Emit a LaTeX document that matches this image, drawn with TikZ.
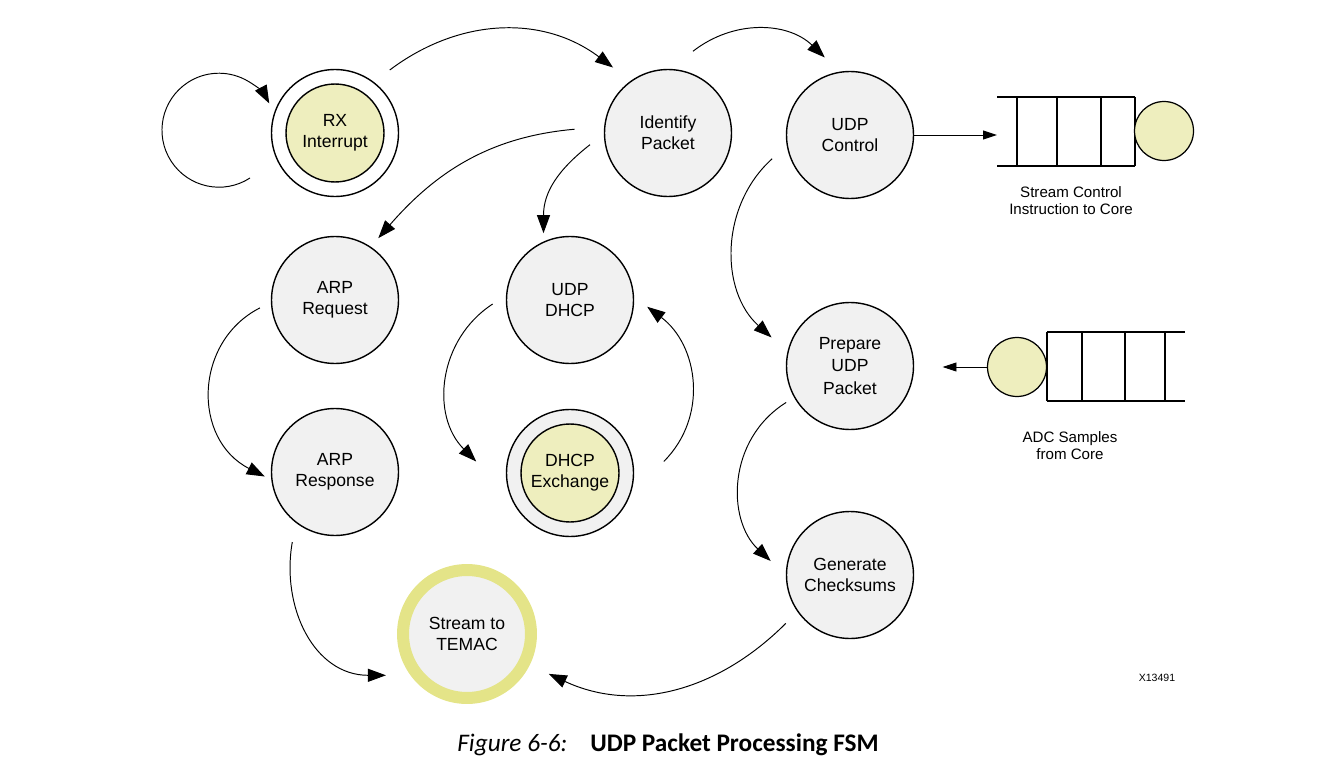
\documentclass[tikz,border=0pt]{standalone}
\usepackage{fontspec}
\setmainfont{Liberation Sans}
\newfontfamily\capfont{Carlito}
\usetikzlibrary{arrows.meta}

\definecolor{stategray}{RGB}{241,241,241}
\definecolor{paleyellow}{RGB}{238,238,190}
\definecolor{ringyellow}{RGB}{228,228,136}

\begin{document}
\begin{tikzpicture}[x=0.02cm, y=-0.02cm,
	state/.style={circle, draw, line width=0.8pt, fill=stategray, minimum size=2.54cm, inner sep=0pt, outer sep=0.4cm, align=center, font=\fontsize{10}{11.8}\selectfont},
	yellowcore/.style={circle, draw, line width=0.8pt, fill=paleyellow, minimum size=1.96cm, inner sep=0pt, align=center, font=\fontsize{10}{11.8}\selectfont},
	arr/.style={-{Triangle[length=0.36cm, width=0.26cm]}, line width=0.55pt},
	feed/.style={-{Triangle[length=0.28cm, width=0.18cm]}, line width=0.55pt},
	qline/.style={line width=0.8pt},
	qtoken/.style={circle, draw, line width=0.7pt, fill=paleyellow, minimum size=1.18cm, inner sep=0pt, outer sep=0pt},
	qnote/.style={align=center, font=\fontsize{8.6}{9.7}\selectfont}]
	\useasboundingbox (0,0) rectangle (1336,767);

	% states
	\node[state, fill=white] (rx) at (335,133) {};
	\node[yellowcore] (rxin) at (rx) {RX\\Interrupt};
	\node[state, outer sep=0.44cm] (idp) at (668,133) {Identify\\Packet};
	\node[state, outer sep=0.36cm] (udpctl) at (850,135) {UDP\\Control};
	\node[state, outer sep=0.24cm] (arpreq) at (335,300) {ARP\\Request};
	\node[state, outer sep=0.28cm] (udpdhcp) at (570,300) {UDP\\DHCP};
	\node[state, outer sep=0.26cm] (arpresp) at (335,472) {ARP\\Response};
	\node[state, outer sep=0.62cm] (dhcpex) at (570,473) {};
	\node[yellowcore] (dhcpin) at (dhcpex) {DHCP\\Exchange};
	\node[state, font=\fontsize{10}{12.6}\selectfont] (prep) at (850,366) {Prepare\\UDP\\Packet};
	\node[state, outer sep=0.34cm] (chk) at (850,575) {Generate\\Checksums};
	\node[state, draw=ringyellow, line width=0.24cm, minimum size=2.56cm, outer sep=0.54cm] (temac) at (467,634) {Stream to\\TEMAC};

	% transitions
	\coordinate (rxloop) at (250,178);
	\draw[arr] (rxloop) arc[start angle=-57, end angle=-332, radius=1.14cm];
	\draw[arr] (rx.49) to[out=37, in=143] (idp.130);
	\draw[arr] (idp.73) to[out=38, in=136] (udpctl.108);
	\draw[arr, shorten <=0.16cm] (idp.177) to[out=185, in=49] (arpreq.55);
	\draw[arr, shorten <=-0.15cm, shorten >=-0.12cm] (idp.191) to[out=218, in=90] (udpdhcp.110);
	\draw[arr, shorten >=-0.14cm] (arpreq.186) to[out=207, in=153, looseness=1.15] (arpresp.181);
	\draw[arr] (udpdhcp.183) to[out=213, in=135, looseness=1.05] (dhcpex.173);
	\draw[arr] (dhcpex.7) to[out=45, in=-37, looseness=1.05] (udpdhcp.355);
	\draw[arr, shorten <=0.12cm] (arpresp.237) to[out=260, in=180, looseness=1.1] (temac.207);
	\draw[arr] (chk.217) to[out=225, in=-25] (temac.334);
	\draw[arr] (udpctl.197) to[out=222, in=138] (prep.160);
	\draw[arr, shorten <=-0.2cm] (prep.210) to[out=212, in=137] (chk.170);

	% control queue
	\coordinate (ctlq) at (997,135);
	\draw[feed, shorten <=-0.36cm] (udpctl.east) -- (ctlq);
	\draw[qline] (997,97) -- (1135,97) (997,166) -- (1135,166);
	\foreach \x in {1017,1057,1101,1135} \draw[qline] (\x,97) -- (\x,166);
	\node[qtoken] (ctlc) at (1164,131) {};
	\node[qnote] (ctlnote) at (1071,201) {Stream Control\\Instruction to Core};

	% sample queue
	\draw[qline] (1047,332) -- (1185,332) (1047,401) -- (1185,401);
	\foreach \x in {1047,1082,1125,1165} \draw[qline] (\x,332) -- (\x,401);
	\node[qtoken] (adcc) at (1017,367) {};
	\draw[feed, shorten >=0.18cm] (adcc) -- (prep.east |- adcc);
	\node[qnote] (adcnote) at (1070,446) {ADC Samples\\from Core};

	\node[font=\fontsize{6}{7}\selectfont] (xid) at (1157,678) {X13491};

	% caption
	\node[anchor=base west, inner sep=0pt, font=\capfont\fontsize{14.4}{17}\selectfont\itshape] (figlbl) at (457,751) {Figure 6-6:};
	\node[anchor=base west, inner sep=0pt, font=\capfont\fontsize{14.4}{17}\selectfont\bfseries] (figttl) at (590,751) {UDP Packet Processing FSM};
\end{tikzpicture}
\end{document}
